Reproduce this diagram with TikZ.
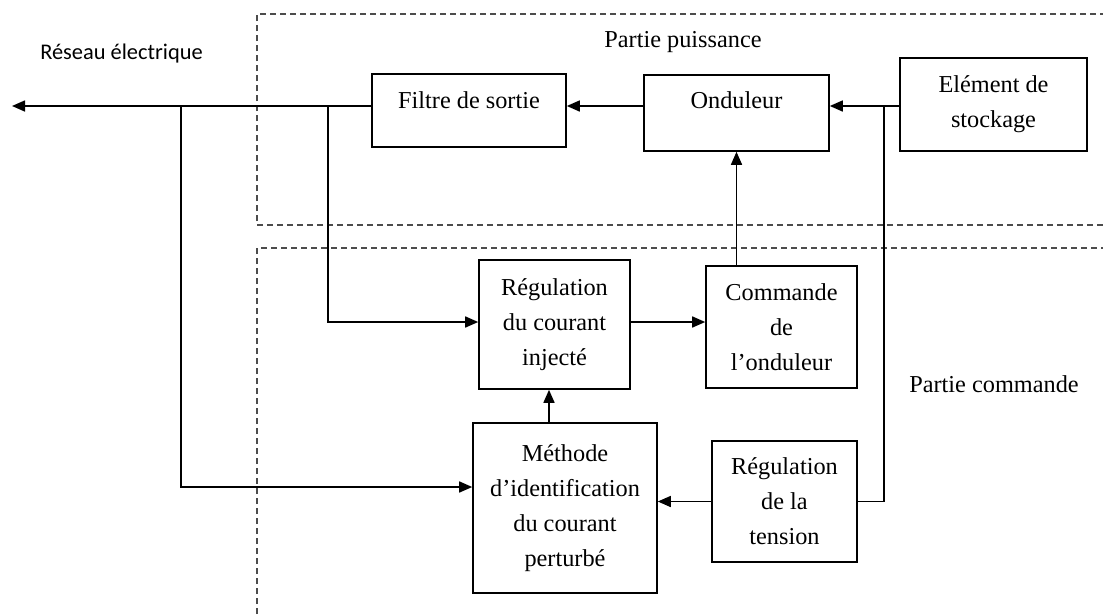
\documentclass[tikz,border=0pt]{standalone}
\usepackage{fontspec}
\setmainfont{Liberation Serif}
\newfontfamily\calibri{Carlito}
\usetikzlibrary{arrows.meta}
\begin{document}
\begin{tikzpicture}[x=1pt,y=-1pt,
  box/.style={draw, line width=1.6pt, inner sep=0pt, align=center,
    font=\fontsize{24.3}{35}\selectfont},
  lbl/.style={inner sep=0pt, font=\fontsize{24.3}{35}\selectfont},
  wire/.style={line width=1.6pt},
  arr/.style={line width=1.6pt, -{Triangle[length=13pt,width=11pt]}},
  zone/.style={line width=1.5pt, black!70, dash pattern=on 6pt off 4pt}]
\useasboundingbox (0,0) rectangle (1103,614);
% zones
\draw[zone] (1103,225) -- (257,225) -- (257,14) -- (1103,14);
\draw[zone] (257,614) -- (257,248) -- (1103,248);
% boxes
\node[box, minimum width=194pt, minimum height=73pt, text height=18pt, text depth=23pt] (filtre) at (469,110.5) {Filtre de sortie};
\node[box, minimum width=185pt, minimum height=76pt, text height=18pt, text depth=28pt] (ond) at (736.5,113) {Onduleur};
\node[box, minimum width=187pt, minimum height=93pt] (elem) at (993.5,104.5) {Elément de\\stockage};
\node[box, minimum width=151pt, minimum height=129pt] (regc) at (554.5,324.5) {Régulation\\du courant\\injecté};
\node[box, minimum width=151pt, minimum height=122pt] (cmd) at (781.5,327) {Commande\\de\\l’onduleur};
\node[box, minimum width=184pt, minimum height=170pt] (meth) at (565,508) {Méthode\\d’identification\\du courant\\perturbé};
\node[box, minimum width=145pt, minimum height=121pt] (regt) at (784.5,501.5) {Régulation\\de la\\tension};
% labels
\node[lbl, anchor=base] (pp) at (683,47) {Partie puissance};
\node[lbl, anchor=base] (pc) at (994,392) {Partie commande};
\node[inner sep=0pt, anchor=base, font=\calibri\fontsize{22.4}{27}\selectfont] (res) at (121.5,59) {Réseau électrique};
% coordinates
\coordinate (tip) at (12,106);
\coordinate (j1) at (181,106);
\coordinate (j2) at (328,106);
\coordinate (j3) at (884,106);
\coordinate (y322) at (0,322);
\coordinate (y487) at (0,487);
\coordinate (x549) at (549,0);
% connectors
\draw[arr] (filtre.west |- tip) -- (tip);
\draw[arr] (ond.west |- tip) -- (filtre.east |- tip);
\draw[arr] (elem.west |- tip) -- (ond.east |- tip);
\draw[arr] (cmd.north -| ond.south) -- (ond.south);
\draw[arr] (j2) |- (regc.west |- y322);
\draw[arr] (regc.east |- y322) -- (cmd.west |- y322);
\draw[arr] (meth.north -| x549) -- (regc.south -| x549);
\draw[arr] (j1) |- (meth.west |- y487);
\draw[arr] (regt.west) -- (meth.east |- regt.west);
\draw[wire] (regt.east) -| (j3);
\end{tikzpicture}
\end{document}
